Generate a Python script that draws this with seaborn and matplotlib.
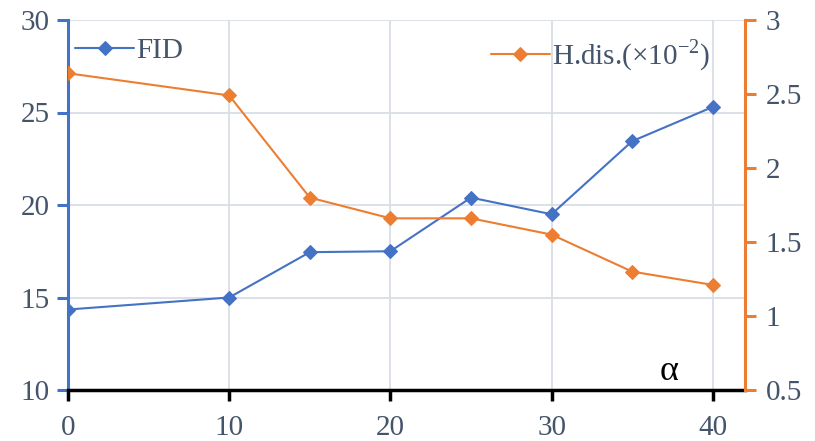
import matplotlib
matplotlib.use("Agg")
import matplotlib.pyplot as plt
import seaborn as sns
import pandas as pd

# data
alpha = [0, 10, 15, 20, 25, 30, 35, 40]
fid = [14.35, 15.0, 17.45, 17.5, 20.4, 19.5, 23.45, 25.3]
hdis = [2.64, 2.49, 1.80, 1.66, 1.66, 1.55, 1.30, 1.21]

blue = "#4472C4"
orange = "#ED7D31"
txt = "#44546A"

sns.set_theme(style="white")
plt.rcParams['font.family'] = ['Liberation Serif', 'DejaVu Serif']
plt.rcParams['mathtext.fontset'] = 'custom'
plt.rcParams['mathtext.rm'] = 'Liberation Serif'

df = pd.DataFrame({"alpha": alpha, "FID": fid, "H": hdis})

fig = plt.figure(figsize=(8.15, 4.41), dpi=100)
ax = fig.add_axes([68 / 815, 1 - 390 / 441, (745 - 68) / 815, (390 - 20) / 441])
ax2 = ax.twinx()

sns.lineplot(data=df, x="alpha", y="FID", ax=ax, color=blue, marker="D",
             markersize=7.5, markeredgecolor=blue, linewidth=1.5, label="FID", zorder=3)
sns.lineplot(data=df, x="alpha", y="H", ax=ax2, color=orange, marker="D",
             markersize=7.5, markeredgecolor=orange, linewidth=1.5,
             label="H.dis.(×10$^{\\mathregular{-2}}$)", zorder=3)

ax.set_xlim(0, 42)
ax.set_ylim(10, 30)
ax2.set_ylim(0.5, 3)
ax.set_xticks([0, 10, 20, 30, 40])
ax.set_yticks([10, 15, 20, 25, 30])
ax2.set_yticks([0.5, 1, 1.5, 2, 2.5, 3])
ax2.set_yticklabels(["0.5", "1", "1.5", "2", "2.5", "3"])
ax.set_xlabel("")
ax.set_ylabel("")
ax2.set_ylabel("")

ax.grid(True, color="#D9DEE6", linewidth=1.3)
ax.set_axisbelow(True)

for a in (ax, ax2):
    for s in a.spines.values():
        s.set_visible(False)
ax.spines["left"].set_visible(True)
ax.spines["left"].set_color(blue)
ax.spines["left"].set_linewidth(2.2)
ax.spines["bottom"].set_visible(True)
ax.spines["bottom"].set_color("black")
ax.spines["bottom"].set_linewidth(2.5)
ax2.spines["right"].set_visible(True)
ax2.spines["right"].set_color(orange)
ax2.spines["right"].set_linewidth(2.2)

ax.tick_params(axis="y", left=True, direction="out", length=8, width=2.2,
               color=blue, labelsize=21, labelcolor=txt, pad=5)
ax.tick_params(axis="x", bottom=True, direction="out", length=8, width=2.5,
               color="black", labelsize=21, labelcolor=txt, pad=10)
ax2.tick_params(axis="y", right=True, direction="out", length=8, width=2.2,
                color=orange, labelsize=21, labelcolor=txt, pad=7)

leg1 = ax.legend(loc="upper left", bbox_to_anchor=(-0.015, 1.0), frameon=False,
                 fontsize=21, handlelength=2.0, handletextpad=0.1, borderaxespad=0.2)
for t in leg1.get_texts():
    t.set_color(txt)
leg2 = ax2.legend(loc="upper right", bbox_to_anchor=(0.975, 1.0), frameon=False,
                  fontsize=21, handlelength=2.0, handletextpad=0.1, borderaxespad=0.2)
for t in leg2.get_texts():
    t.set_color(txt)

ax.text(0.888, 0.005, "α", transform=ax.transAxes, ha="center", va="bottom",
        fontsize=26, color="black")

fig.savefig("out.png", dpi=100)
